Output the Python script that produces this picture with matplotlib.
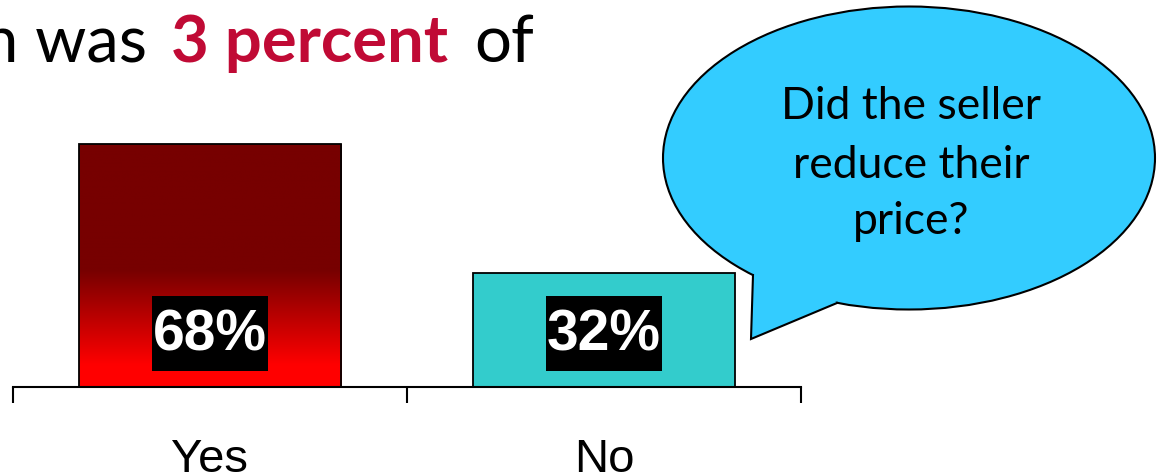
import numpy as np
import matplotlib
matplotlib.use("Agg")
import matplotlib.pyplot as plt
from matplotlib.colors import LinearSegmentedColormap
from matplotlib.patches import Ellipse, Polygon, Rectangle

categories = ["Yes", "No"]
percents = [68, 32]
bar_labels = ["68%", "32%"]
title_parts = ["on was", "3 percent", "of"]
bubble_lines = ["Did the seller", "reduce their", "price?"]

W, H = 1159, 474
fig = plt.figure(figsize=(W / 100, H / 100), dpi=100)

# main bar axes, placed in pixel terms
ax = fig.add_axes([13 / W, (H - 387) / H, 788 / W, 387 / H])
x = np.arange(len(categories))
bars = ax.bar(x, percents, width=0.665, color=["none", "#33CCCC"],
              edgecolor="black", linewidth=1.3, zorder=3)

# gradient fill for the "Yes" bar (red at the bottom, dark red on top)
grad = LinearSegmentedColormap.from_list(
    "yesgrad", [(0.0, "#FF0000"), (0.09, "#FF0000"), (0.48, "#770000"), (1.0, "#770000")])
b0 = bars[0]
bx, bw, bh = b0.get_x(), b0.get_width(), b0.get_height()
img = ax.imshow(np.linspace(0, 1, 256).reshape(-1, 1), cmap=grad, origin="lower",
                extent=[bx, bx + bw, 0, bh], aspect="auto", zorder=2)
img.set_clip_path(b0)

ax.set_xlim(-0.5, 1.5)
ax.set_ylim(0, 387 / (243 / 68))

# black label boxes with white percentages
box_w, box_h, box_y = 0.292, 21.0, 15.1
for xi, lab in zip(x, bar_labels):
    ax.add_patch(Rectangle((xi - box_w / 2, box_y - box_h / 2), box_w, box_h,
                           facecolor="black", edgecolor="none", zorder=4))
    ax.text(xi, box_y - 0.6, lab, ha="center", va="center", color="white",
            fontsize=41, fontweight="bold", family="Liberation Sans", zorder=5)

for s in ["top", "left", "right"]:
    ax.spines[s].set_visible(False)
ax.spines["bottom"].set_linewidth(1.5)
ax.spines["bottom"].set_zorder(4)
ax.set_yticks([])
ax.set_xticks(x)
ax.set_xticklabels(categories, family="Liberation Sans", fontsize=34)
ax.set_xticks([-0.5, 0.5, 1.5], minor=True)
ax.tick_params(axis="x", which="major", length=0, pad=37)
ax.tick_params(axis="x", which="minor", length=11.5, width=1.5, direction="out")
ax.patch.set_alpha(0)

# overlay in pixel coordinates for the title and the speech bubble
ov = fig.add_axes([0, 0, 1, 1], zorder=10)
ov.set_xlim(0, W)
ov.set_ylim(H, 0)
ov.axis("off")
ov.patch.set_alpha(0)

ov.text(147, 62, title_parts[0], ha="right", va="baseline", fontsize=47,
        family="Lato", color="black")
ov.text(171, 62, title_parts[1], ha="left", va="baseline", fontsize=47,
        family="Lato", fontweight="bold", color="#C00A35")
ov.text(474, 62, title_parts[2], ha="left", va="baseline", fontsize=47,
        family="Lato", color="black")

bubble_color = "#33CCFF"
ov.add_patch(Ellipse((909, 158), 492, 303, facecolor=bubble_color,
                     edgecolor="black", linewidth=1.5, zorder=1))
tail = [(753, 275), (751, 339), (837, 303), (810, 270), (770, 262)]
ov.add_patch(Polygon(tail, closed=True, facecolor=bubble_color, edgecolor="none", zorder=2))
ov.plot([753, 751, 837], [275, 339, 303], color="black", linewidth=1.5,
        solid_joinstyle="miter", zorder=3)

for line, yb in zip(bubble_lines, [119, 178, 234]):
    ov.text(911, yb, line, ha="center", va="baseline", fontsize=32,
            family="Lato", color="black", zorder=4)

fig.savefig("out.png", dpi=100)
